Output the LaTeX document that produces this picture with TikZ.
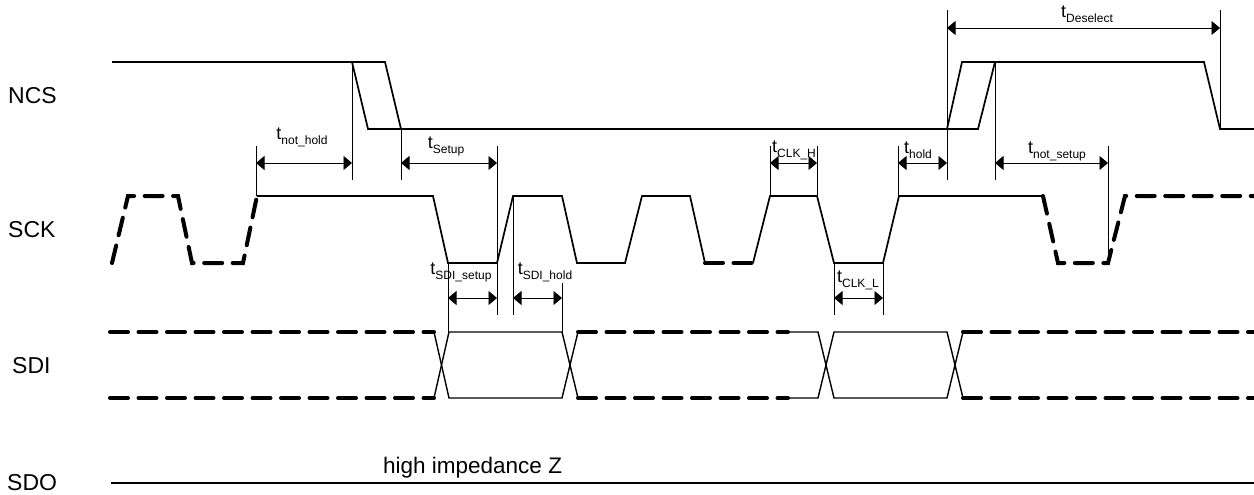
\documentclass[tikz,border=0pt]{standalone}
\usepackage{fontspec}
\setmainfont{Liberation Sans}
\usetikzlibrary{positioning, arrows.meta, calc}

\newcommand{\tname}[1]{{\fontsize{18}{18}\selectfont t}\raisebox{-5pt}{\fontsize{12}{12}\selectfont #1}}

\begin{document}
\begin{tikzpicture}[x=1pt, y=-1pt,
    wave/.style={line width=1.7pt, line join=miter},
    datawave/.style={line width=1.4pt},
    wavedash/.style={line width=4pt, line cap=round, dash pattern=on 18pt off 10.5pt},
    guide/.style={line width=0.8pt},
    dim/.style={line width=0.8pt, {Triangle[length=8.5pt,width=14pt]}-{Triangle[length=8.5pt,width=14pt]}},
    siglabel/.style={font=\fontsize{23}{26}\selectfont, anchor=base west, inner sep=0pt},
    tlabel/.style={inner sep=0pt}]
  \useasboundingbox (0,0) rectangle (1254,495);

  % signal names
  \node[siglabel] (ncs) at (8,103) {NCS};
  \node[siglabel] (sck) at (8,237) {SCK};
  \node[siglabel] (sdi) at (12,373) {SDI};
  \node[siglabel] (sdo) at (7,490) {SDO};

  % NCS
  \draw[wave] (112,62) -- (385,62) -- (401,129);
  \draw[wave] (352,62) -- (368,129) -- (978,129) -- (995,62) -- (1204,62) -- (1220,129) -- (1254,129);
  \draw[wave] (947,129) -- (962,62) -- (995,62);

  % SCK
  \draw[wavedash] (112,263) -- (128,196) -- (178,196) -- (192,263) -- (243,263) -- (257,196);
  \draw[wave] (257,196) -- (433,196) -- (448,263) -- (497,263) -- (513,196) -- (562,196)
    -- (577,263) -- (625,263) -- (642,196) -- (690,196) -- (705,263);
  \draw[wavedash] (705,263) -- (753,263);
  \draw[wave] (753,263) -- (770,196) -- (817,196) -- (834,263) -- (883,263) -- (899,196) -- (1043,196);
  \draw[wavedash] (1043,196) -- (1058,263) -- (1108,263) -- (1125,196) -- (1254,196);

  % SDI
  \foreach \ya/\yb in {332/398, 398/332} {
    \draw[wavedash] (110,\ya) -- (434,\ya);
    \draw[datawave] (434,\ya) -- (449,\yb) -- (562,\yb) -- (578,\ya);
    \draw[wavedash] (578,\ya) -- (788,\ya);
    \draw[datawave] (788,\ya) -- (818,\ya) -- (834,\yb) -- (947,\yb) -- (963,\ya);
    \draw[wavedash] (963,\ya) -- (1254,\ya);
  }

  % SDO
  \draw[wave] (111,483) -- (1254,483);
  \node[anchor=base west, inner sep=0pt, font=\fontsize{22.5}{26}\selectfont] (hiz) at (383,473) {high impedance Z};

  % guide lines
  \foreach \x/\ya/\yb in {256/146/196, 352/62/180, 401/129/180, 497/146/315, 448/263/332,
      513/196/315, 562/283/332, 770/146/196, 817/146/196, 834/263/315, 883/263/315,
      898/146/196, 947/10/180, 995/62/180, 1108/146/263, 1220/10/129}
    \draw[guide] (\x,\ya) -- (\x,\yb);

  % timing marks
  \coordinate (nhA) at (256,163);  \coordinate (nhB) at (352,163);
  \coordinate (suA) at (401,163);  \coordinate (suB) at (497,163);
  \coordinate (chA) at (770,163);  \coordinate (chB) at (817,163);
  \coordinate (hoA) at (898,163);  \coordinate (hoB) at (947,163);
  \coordinate (nsA) at (995,163);  \coordinate (nsB) at (1108,163);
  \coordinate (deA) at (947,28);   \coordinate (deB) at (1220,28);
  \coordinate (ssA) at (448,298);  \coordinate (ssB) at (497,298);
  \coordinate (shA) at (513,298);  \coordinate (shB) at (562,298);
  \coordinate (clA) at (834,298);  \coordinate (clB) at (883,298);

  \draw[dim] (nhA) -- (nhB);
  \draw[dim] (suA) -- (suB);
  \draw[dim] (chA) -- (chB);
  \draw[dim] (hoA) -- (hoB);
  \draw[dim] (nsA) -- (nsB);
  \draw[dim] (deA) -- (deB);
  \draw[dim] (ssA) -- (ssB);
  \draw[dim] (shA) -- (shB);
  \draw[dim] (clA) -- (clB);

  \node[tlabel] (tnh) at (302,137) {\tname{not\_hold}};
  \node[tlabel] (tsu) at (446,146) {\tname{Setup}};
  \node[tlabel] (tch) at (794,150) {\tname{CLK\_H}};
  \node[tlabel] (tho) at (918,150) {\tname{hold}};
  \node[tlabel] (tns) at (1057,151) {\tname{not\_setup}};
  \node[tlabel] (tde) at (1087,14) {\tname{Deselect}};
  \node[tlabel] (tss) at (461,272) {\tname{SDI\_setup}};
  \node[tlabel] (tsh) at (545,272) {\tname{SDI\_hold}};
  \node[tlabel] (tcl) at (858,280) {\tname{CLK\_L}};
\end{tikzpicture}
\end{document}
